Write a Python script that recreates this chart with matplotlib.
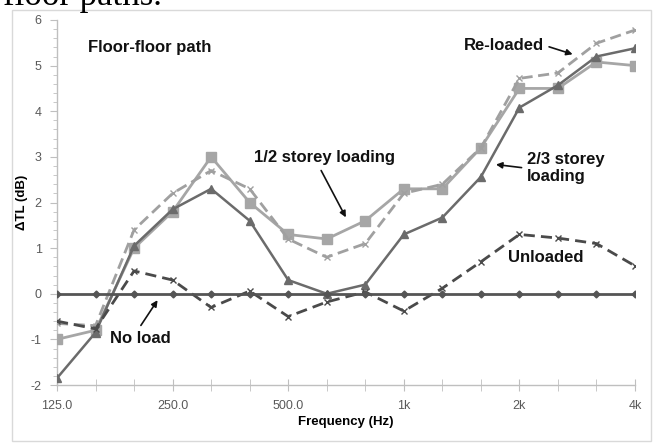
import matplotlib.pyplot as plt
from matplotlib.patches import Rectangle
from matplotlib.ticker import MultipleLocator, FixedLocator

plt.rcParams["axes.unicode_minus"] = False
plt.rcParams["font.family"] = ["Liberation Sans", "DejaVu Sans"]

# 1/3 octave bands, 125 Hz to 4 kHz
freqs = ["125", "160", "200", "250", "315", "400", "500", "630", "800",
         "1k", "1.25k", "1.6k", "2k", "2.5k", "3.15k", "4k"]
tick_labels = ["125.0", "250.0", "500.0", "1k", "2k", "4k"]

no_load = [0] * 16
unloaded = [-0.6, -0.77, 0.5, 0.3, -0.3, 0.06, -0.5, -0.18, 0.04, -0.38,
            0.12, 0.7, 1.3, 1.22, 1.1, 0.61]
half_storey = [-1.0, -0.8, 1.0, 1.8, 3.0, 2.0, 1.3, 1.2, 1.6, 2.3,
               2.3, 3.2, 4.5, 4.5, 5.08, 5.0]
two_thirds = [-1.85, -0.85, 1.05, 1.85, 2.3, 1.6, 0.3, 0.0, 0.2, 1.3,
              1.67, 2.56, 4.08, 4.57, 5.2, 5.38]
reloaded = [-0.65, -0.7, 1.4, 2.2, 2.7, 2.3, 1.2, 0.8, 1.1, 2.2,
            2.4, 3.2, 4.72, 4.84, 5.49, 5.78]

x = list(range(len(freqs)))

fig = plt.figure(figsize=(6.55, 4.43), dpi=100)
ax = fig.add_axes([57 / 655, 1 - 385 / 443, 578 / 655, 365 / 443])

# chart border and the cut-off document text above it
fig.patches.append(Rectangle((12 / 655, 2 / 443), 639 / 655, 431 / 443,
                             transform=fig.transFigure, fill=False,
                             edgecolor="#d9d9d9", linewidth=1))
fig.text(3 / 655, 1 - 5 / 443, "floor paths.", family="Liberation Serif",
         fontsize=25, va="baseline", ha="left", color="black")

ax.plot(x, half_storey, color="#a6a6a6", lw=2, marker="s", ms=6.5, zorder=3)
ax.plot(x, reloaded, color="#a0a0a0", lw=2, dashes=(4, 2), marker="x",
        ms=5, mew=1, zorder=3)
ax.plot(x, two_thirds, color="#6b6b6b", lw=1.8, marker="^", ms=5.5, zorder=4)
ax.plot(x, unloaded, color="#4a4a4a", lw=2, dashes=(4, 2.2), marker="x",
        ms=5, mew=1, zorder=4)
ax.plot(x, no_load, color="#555555", lw=2, marker="D", ms=3.5, zorder=5)

ax.set_xlim(0, 15)
ax.set_ylim(-2, 6)
for s in ["top", "right"]:
    ax.spines[s].set_visible(False)
for s in ["left", "bottom"]:
    ax.spines[s].set_color("#bfbfbf")
    ax.spines[s].set_linewidth(1)

ax.xaxis.set_major_locator(FixedLocator([0, 3, 6, 9, 12, 15]))
ax.xaxis.set_minor_locator(FixedLocator(x))
ax.set_xticklabels(tick_labels)
ax.yaxis.set_major_locator(MultipleLocator(1))
ax.yaxis.set_minor_locator(MultipleLocator(0.2))
ax.tick_params(axis="x", which="both", direction="inout", length=8,
               color="#bfbfbf", labelcolor="#595959", labelsize=9, pad=7)
ax.tick_params(axis="y", which="major", direction="out", length=5,
               color="#bfbfbf", labelcolor="#595959", labelsize=9, pad=6)
ax.tick_params(axis="y", which="minor", direction="out", length=3,
               color="#bfbfbf")

ax.set_xlabel("Frequency (Hz)", fontweight="bold", fontsize=9.5, labelpad=3)
ax.set_ylabel("ΔTL (dB)", fontweight="bold", fontsize=9.5, labelpad=2)

txt = dict(fontweight="bold", fontsize=12, color="#111111")
arr = dict(arrowstyle="-|>", color="#111111", lw=1.2, mutation_scale=9)
ax.text(0.8, 5.4, "Floor-floor path", **txt, va="center")
ax.annotate("1/2 storey loading", xy=(7.53, 1.62), xytext=(5.1, 2.98),
            va="center", ha="left", arrowprops=dict(arr, relpos=(0.46, 0.0)),
            **txt)
ax.annotate("Re-loaded", xy=(13.45, 5.23), xytext=(10.55, 5.45),
            va="center", ha="left", arrowprops=dict(arr, relpos=(1.0, 0.5)),
            **txt)
ax.annotate("2/3 storey\nloading", xy=(11.32, 2.84), xytext=(12.2, 2.75),
            va="center", ha="left", arrowprops=dict(arr, relpos=(0.0, 0.5)),
            **txt)
ax.text(11.7, 0.79, "Unloaded", **txt, va="center")
ax.annotate("No load", xy=(2.65, -0.09), xytext=(1.38, -0.97),
            va="center", ha="left", arrowprops=dict(arr, relpos=(0.45, 1.0)),
            **txt)

fig.savefig("out.png", dpi=100)
